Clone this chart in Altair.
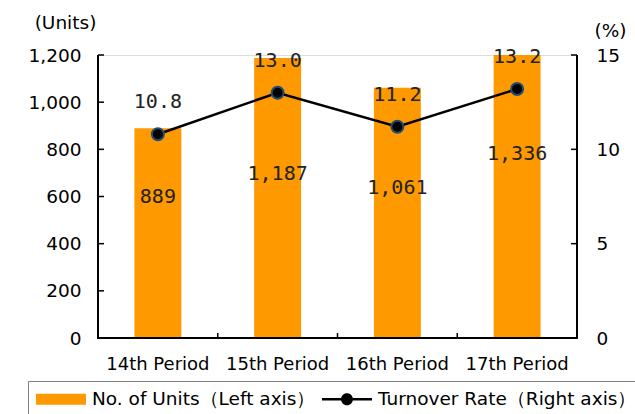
import altair as alt
import pandas as pd

# ---- data ----
periods = ["14th Period", "15th Period", "16th Period", "17th Period"]
units = [889, 1187, 1061, 1336]
turnover = [10.8, 13.0, 11.2, 13.2]

unit_series = "No. of Units（Left axis）"
rate_series = "Turnover Rate（Right axis）"

left_ticks = [0, 200, 400, 600, 800, 1000, 1200]
right_ticks = [0, 5, 10, 15]

# ---- styling ----
ORANGE = "#FF9900"
W, H = 479, 283
AXIS_FONT = "DejaVu Sans"
LABEL_FONT = "DejaVu Sans Mono"

units_df = pd.DataFrame({"period": periods, "units": units})
# unit labels sit inside the bars at these heights (left-axis units)
units_df["label_at"] = [600, 695, 636, 780]
rate_df = pd.DataFrame({"period": periods, "rate": turnover})
legend_df = pd.DataFrame({"series": [unit_series, rate_series]})

left_scale = alt.Scale(domain=[0, 1200], nice=False)
right_scale = alt.Scale(domain=[0, 15], nice=False)

x_axis = alt.Axis(
    title=None, labelAngle=0, labelFontSize=18, labelFont=AXIS_FONT,
    labelColor="black", labelPadding=17, ticks=False, domain=False,
)
band = alt.Scale(paddingInner=0, paddingOuter=0)
x_enc = alt.X("period:N", sort=periods, scale=band, axis=x_axis)
x_edge = alt.X("period:N", sort=periods, bandPosition=0, scale=band, axis=x_axis)

left_axis = alt.Axis(
    values=left_ticks, format=",d", ticks=False, grid=False, domain=False,
    labelFontSize=18.5, labelFont=AXIS_FONT, labelColor="black", labelPadding=17,
    title="(Units)", titleAngle=0, titleX=-33, titleY=-33,
    titleAlign="center", titleBaseline="middle",
    titleFontSize=18.5, titleFont=AXIS_FONT, titleFontWeight="normal", titleColor="black",
)
right_axis = alt.Axis(
    orient="right", values=right_ticks, format="d", ticks=False, grid=False, domain=False,
    labelFontSize=18.5, labelFont=AXIS_FONT, labelColor="black", labelPadding=19,
    title="(%)", titleAngle=0, titleX=33, titleY=-25,
    titleAlign="center", titleBaseline="middle",
    titleFontSize=18.5, titleFont=AXIS_FONT, titleFontWeight="normal", titleColor="black",
)

# ---- bars on the left axis ----
bars = alt.Chart(units_df).mark_bar(color=ORANGE, clip=True,
                                    width=alt.RelativeBandSize(0.392)).encode(
    x=x_enc,
    y=alt.Y("units:Q", scale=left_scale, axis=left_axis),
)
bar_labels = alt.Chart(units_df).mark_text(
    font=LABEL_FONT, fontSize=20, color="#222", baseline="middle",
).encode(
    x=x_enc,
    y=alt.Y("label_at:Q", scale=left_scale, axis=None),
    text=alt.Text("units:Q", format=","),
)

# ---- axis frame: solid black axis lines with inward tick marks ----
frame = pd.DataFrame({"k": [0]})
left_line = alt.Chart(frame).mark_rule(color="black", strokeWidth=2).encode(
    x=alt.value(0), y=alt.value(0), y2=alt.value(H))
right_line = alt.Chart(frame).mark_rule(color="black", strokeWidth=2).encode(
    x=alt.value(W), y=alt.value(0), y2=alt.value(H))
bottom_line = alt.Chart(frame).mark_rule(color="black", strokeWidth=2).encode(
    x=alt.value(-1), x2=alt.value(W + 1), y=alt.value(H))

left_tick_marks = alt.Chart(pd.DataFrame({"v": left_ticks})).mark_rule(
    color="black", strokeWidth=1.5).encode(
    y=alt.Y("v:Q", scale=left_scale, axis=None),
    x=alt.value(0), x2=alt.value(6),
)
x_tick_marks = alt.Chart(units_df).mark_rule(color="black", strokeWidth=1.5).encode(
    x=x_edge, y=alt.value(H), y2=alt.value(H - 5),
)

# ---- turnover line on the right axis ----
line = alt.Chart(rate_df).mark_line(color="black", strokeWidth=2.5).encode(
    x=x_enc,
    y=alt.Y("rate:Q", scale=right_scale, axis=right_axis),
)
points = alt.Chart(rate_df).mark_point(
    filled=True, fill="black", stroke="#1F4E79", strokeWidth=2, size=144, opacity=1,
).encode(
    x=x_enc,
    y=alt.Y("rate:Q", scale=right_scale, axis=None),
)
rate_labels = alt.Chart(rate_df).mark_text(
    font=LABEL_FONT, fontSize=20, color="#222", baseline="middle", dy=-32,
).encode(
    x=x_enc,
    y=alt.Y("rate:Q", scale=right_scale, axis=None),
    text=alt.Text("rate:Q", format=".1f"),
)
right_tick_marks = alt.Chart(pd.DataFrame({"v": right_ticks})).mark_rule(
    color="black", strokeWidth=1.5).encode(
    y=alt.Y("v:Q", scale=right_scale, axis=None),
    x=alt.value(W), x2=alt.value(W - 6),
)

# ---- legend: swatch and line-with-dot drawn as filled paths ----
rect_path = "M-1,-0.55H4V0.55H-1Z"
line_dot_path = ("M-1,-0.12H0.9V0.12H-1Z"
                 "M2.1,-0.12H4V0.12H2.1Z"
                 "M2.1,0A0.6,0.6,0,1,1,0.9,0A0.6,0.6,0,1,1,2.1,0Z")
legend = alt.Legend(
    title=None, orient="none", legendX=-70, legendY=326, direction="horizontal",
    strokeColor="#7f7f7f", fillColor="white", padding=8,
    labelFontSize=18.5, labelFont=AXIS_FONT, labelColor="black", labelLimit=400,
    symbolSize=400, symbolStrokeWidth=0, symbolOpacity=1,
    labelOffset=36, columnPadding=6,
)
series_domain = [unit_series, rate_series]
legend_layer = alt.Chart(legend_df).transform_filter("false").mark_point(
    filled=True).encode(
    fill=alt.Fill("series:N", scale=alt.Scale(domain=series_domain,
                                              range=[ORANGE, "black"]), legend=legend),
    shape=alt.Shape("series:N", scale=alt.Scale(domain=series_domain,
                                                range=[rect_path, line_dot_path]), legend=legend),
)

chart = alt.layer(
    bars, bar_labels, left_line, right_line, bottom_line,
    left_tick_marks, x_tick_marks,
    line, points, rate_labels, right_tick_marks, legend_layer,
).resolve_scale(
    y="independent"
).properties(
    width=W, height=H,
    autosize=alt.AutoSizeParams(type="none"),
    padding={"left": 98, "top": 55, "right": 58, "bottom": 76},
).configure_view(
    stroke=None
).configure(background="white")

chart.save("out.html", embed_options={"renderer": "svg", "actions": False})
